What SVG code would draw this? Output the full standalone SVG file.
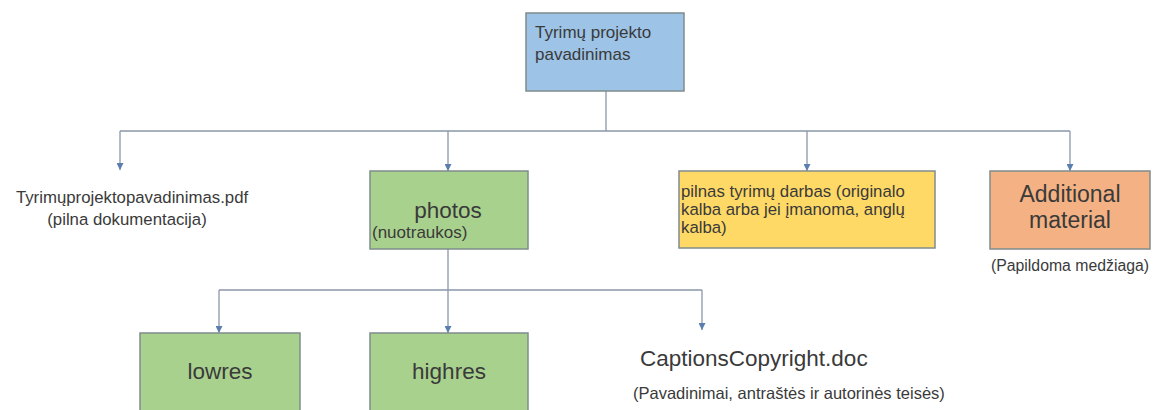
<svg xmlns="http://www.w3.org/2000/svg" width="1159" height="410" viewBox="0 0 1159 410">
<defs>
<style>
.t{font-family:"Liberation Sans",Arial,sans-serif;fill:#3a3a3a}
.box{stroke:#7f8c8d;stroke-width:1.5}
.c{fill:none;stroke:#8a97a8;stroke-width:1.3}
</style>
<marker id="ah" viewBox="0 0 8 8" refX="8" refY="4" markerWidth="7" markerHeight="7" markerUnits="userSpaceOnUse" orient="auto">
<path d="M0,0 L8,4 L0,8 Z" fill="#5b7eb0"/>
</marker>
</defs>
<rect width="1159" height="410" fill="#ffffff"/>
<g id="connectors">
<path class="c" d="M606,91 V131"/>
<path class="c" d="M120,131 H1070"/>
<path class="c" d="M120,131 V170" marker-end="url(#ah)"/>
<path class="c" d="M448,131 V171" marker-end="url(#ah)"/>
<path class="c" d="M807,131 V171" marker-end="url(#ah)"/>
<path class="c" d="M1070,131 V171" marker-end="url(#ah)"/>
<path class="c" d="M448,249 V290"/>
<path class="c" d="M219,290 H702"/>
<path class="c" d="M219,290 V333" marker-end="url(#ah)"/>
<path class="c" d="M448,290 V333" marker-end="url(#ah)"/>
<path class="c" d="M702,290 V330" marker-end="url(#ah)"/>
</g>
<g id="root">
<rect class="box" x="526" y="13" width="158" height="78" fill="#9dc3e6"/>
<text class="t" x="535" y="38" font-size="17">Tyrimų projekto</text>
<text class="t" x="535" y="60" font-size="17">pavadinimas</text>
</g>
<g id="pdf">
<text class="t" x="132" y="203" font-size="16.8" text-anchor="middle">Tyrimųprojektopavadinimas.pdf</text>
<text class="t" x="127" y="225" font-size="16.8" text-anchor="middle">(pilna dokumentacija)</text>
</g>
<g id="photos">
<rect class="box" x="370" y="171" width="158" height="78" fill="#a9d18e"/>
<text class="t" x="448" y="218" font-size="22.5" text-anchor="middle">photos</text>
<text class="t" x="372" y="238" font-size="17">(nuotraukos)</text>
</g>
<g id="full">
<rect class="box" x="679" y="171" width="256" height="77" fill="#ffd966"/>
<text class="t" x="681" y="197" font-size="16.8">pilnas tyrimų darbas (originalo</text>
<text class="t" x="681" y="215" font-size="16.8">kalba arba jei įmanoma, anglų</text>
<text class="t" x="681" y="233" font-size="16.8">kalba)</text>
</g>
<g id="additional">
<rect class="box" x="990" y="171" width="160" height="78" fill="#f4b183"/>
<text class="t" x="1070" y="202" font-size="23" text-anchor="middle">Additional</text>
<text class="t" x="1070" y="228" font-size="23" text-anchor="middle">material</text>
<text class="t" x="1070" y="271" font-size="15.8" text-anchor="middle">(Papildoma medžiaga)</text>
</g>
<g id="lowres">
<rect class="box" x="140" y="333" width="160" height="85" fill="#a9d18e"/>
<text class="t" x="220" y="379" font-size="22.5" text-anchor="middle">lowres</text>
</g>
<g id="highres">
<rect class="box" x="370" y="333" width="158" height="85" fill="#a9d18e"/>
<text class="t" x="449" y="379" font-size="22.5" text-anchor="middle">highres</text>
</g>
<g id="captions">
<text class="t" x="640" y="366" font-size="22.5">CaptionsCopyright.doc</text>
<text class="t" x="633" y="399" font-size="16.5">(Pavadinimai, antraštės ir autorinės teisės)</text>
</g>
</svg>
